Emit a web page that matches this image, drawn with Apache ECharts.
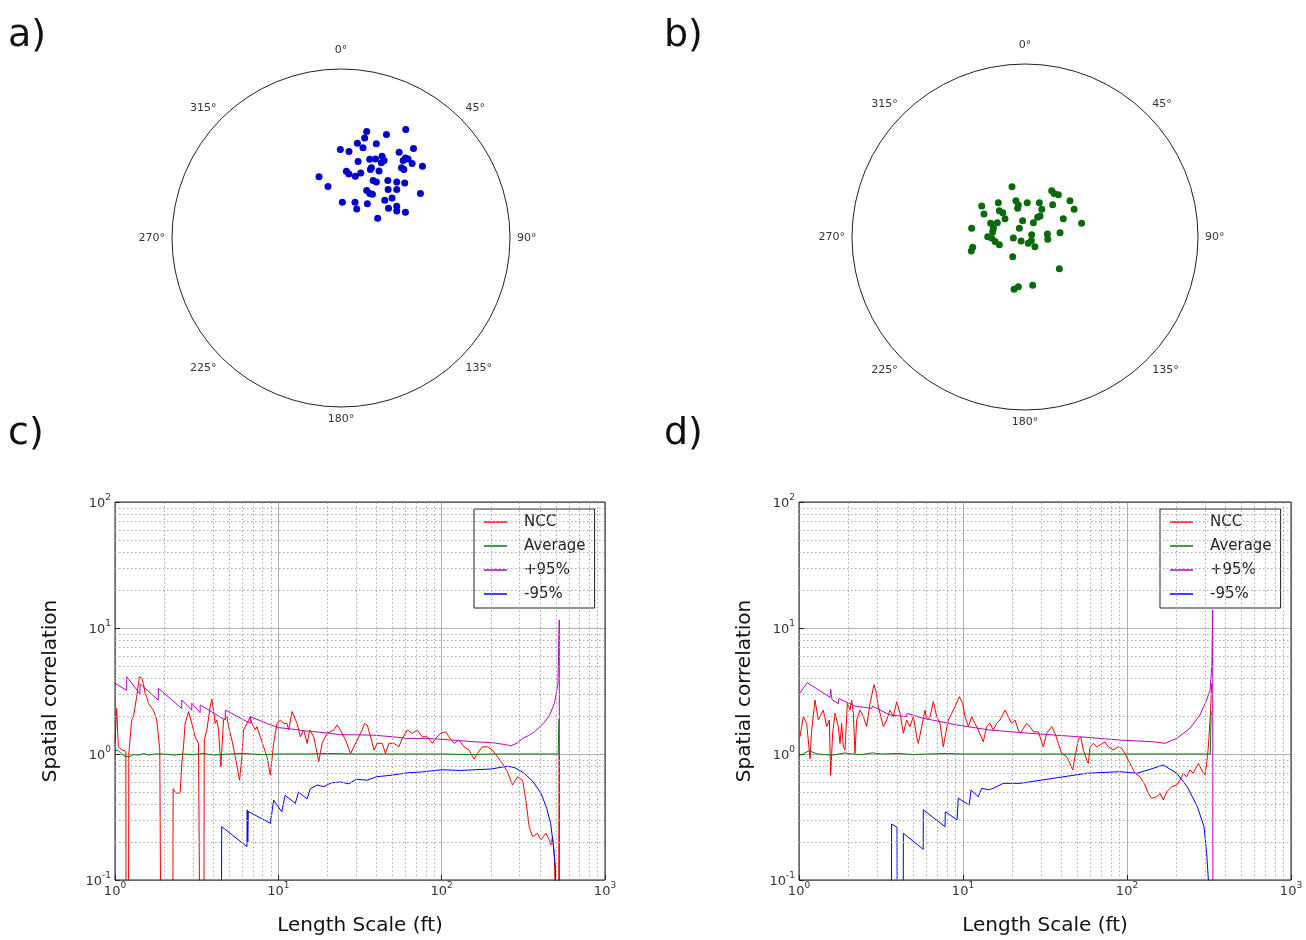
<!DOCTYPE html>
<html><head><meta charset="utf-8">
<script src="https://cdn.jsdelivr.net/npm/echarts@6/dist/echarts.min.js"></script>
<style>html,body{margin:0;padding:0;background:#fff}#c{width:1306px;height:940px}</style>
</head><body><div id="c"></div>
<script>
// ---------- data ----------
const angleStep = 45;
const stereoA = [[0.383,0.642],[0.152,0.630],[0.269,0.613],[0.140,0.591],[0.097,0.561],[0.209,0.557],[0.130,0.534],[-0.004,0.524],[0.047,0.512],[0.429,0.530],[0.344,0.508],[0.101,0.453],[0.170,0.466],[0.204,0.468],[0.243,0.484],[0.255,0.458],[0.239,0.445],[0.381,0.474],[0.397,0.468],[0.368,0.458],[0.421,0.441],[0.482,0.425],[0.358,0.415],[0.372,0.405],[0.180,0.415],[0.174,0.405],[0.225,0.397],[0.032,0.395],[0.047,0.379],[0.085,0.366],[0.117,0.385],[-0.130,0.362],[-0.077,0.304],[0.190,0.340],[0.209,0.332],[0.277,0.340],[0.330,0.332],[0.377,0.326],[0.152,0.281],[0.170,0.263],[0.186,0.259],[0.279,0.287],[0.330,0.287],[0.470,0.263],[0.302,0.237],[0.259,0.223],[0.008,0.211],[0.083,0.211],[0.093,0.172],[0.156,0.202],[0.281,0.176],[0.330,0.188],[0.330,0.160],[0.381,0.152],[0.217,0.117]];
const stereoB = [[-0.076,0.294],[0.156,0.271],[0.170,0.255],[0.195,0.247],[-0.253,0.181],[-0.156,0.201],[-0.053,0.212],[-0.039,0.187],[0.013,0.201],[0.084,0.201],[0.162,0.189],[0.263,0.212],[0.287,0.162],[-0.240,0.135],[-0.150,0.154],[-0.130,0.142],[-0.117,0.107],[-0.043,0.168],[0.098,0.162],[0.088,0.123],[0.074,0.115],[0.224,0.107],[0.331,0.080],[-0.014,0.095],[0.049,0.084],[-0.201,0.080],[-0.162,0.084],[-0.185,0.051],[-0.189,0.031],[-0.312,0.051],[-0.033,0.051],[-0.218,0.002],[-0.195,-0.006],[-0.175,-0.027],[-0.150,-0.045],[-0.068,-0.006],[-0.023,-0.023],[0.039,0.013],[0.037,-0.022],[0.019,-0.037],[0.058,-0.057],[0.131,0.018],[0.133,-0.013],[0.205,0.025],[-0.306,-0.060],[-0.314,-0.082],[-0.072,-0.115],[0.201,-0.185],[-0.064,-0.306],[-0.039,-0.291],[0.045,-0.282]];

const seriesNames = ['NCC', 'Average', '+95%', '-95%'];
const minorGridX = [2,3,4,5,6,7,8,9,20,30,40,50,60,70,80,90,200,300,400,500,600,700,800,900];
const minorGridY = [0.2,0.3,0.4,0.5,0.6,0.7,0.8,0.9,2,3,4,5,6,7,8,9,20,30,40,50,60,70,80,90];

const nccC = [[1.0,1.22],[1.024,2.3],[1.048,1.14],[1.10,1.08],[1.165,1.05],[1.168,0.05],[1.21,0.05],[1.215,1.0],[1.265,1.86],[1.296,1.98],[1.358,2.85],[1.41,4.11],[1.457,3.99],[1.492,3.64],[1.528,3.03],[1.564,2.85],[1.602,2.52],[1.719,2.23],[1.801,1.86],[1.88,1.08],[1.905,0.05],[2.26,0.05],[2.27,0.53],[2.35,0.49],[2.505,0.49],[2.565,0.84],[2.626,1.14],[2.688,1.75],[2.818,2.17],[2.884,2.10],[2.953,1.75],[3.096,1.37],[3.245,1.215],[3.30,0.05],[3.50,0.05],[3.52,1.29],[3.65,1.55],[3.826,2.38],[3.917,2.72],[4.01,2.23],[4.106,1.75],[4.204,1.86],[4.305,1.55],[4.448,0.79],[4.619,1.86],[4.842,1.98],[4.958,1.65],[5.197,1.29],[5.448,0.953],[5.791,0.62],[5.984,0.953],[6.128,1.55],[6.423,1.75],[6.733,1.98],[6.893,1.75],[7.225,1.55],[7.396,1.65],[7.756,1.37],[8.128,1.14],[8.519,0.953],[8.93,0.68],[9.36,1.215],[9.81,1.75],[10.29,1.86],[10.78,1.75],[11.3,1.75],[11.57,1.55],[12.13,2.17],[12.42,2.10],[13.02,1.75],[13.65,1.37],[14.3,1.55],[15.0,1.215],[15.57,1.55],[16.48,1.37],[17.68,0.87],[18.53,1.215],[19.89,1.46],[21.85,1.55],[22.91,1.70],[24.0,1.55],[25.8,1.29],[27.7,1.01],[29.0,1.14],[31.1,1.37],[32.6,1.55],[33.7,1.75],[35.0,1.70],[36.7,1.37],[38.5,1.076],[40.3,1.215],[43.3,1.215],[45.3,1.01],[47.5,1.215],[51.0,1.215],[54.7,1.14],[57.4,1.33],[61.6,1.55],[66.1,1.46],[70.9,1.55],[76.1,1.37],[81.7,1.37],[87.6,1.215],[91.9,1.33],[98.6,1.46],[105.8,1.50],[110.9,1.37],[119.0,1.215],[127.8,1.29],[137.1,1.14],[147.1,1.076],[157.9,0.91],[165.5,1.01],[177.6,1.14],[190.6,1.14],[204.6,1.076],[219.6,0.953],[235.6,0.84],[252.9,0.724],[271.4,0.567],[291.2,0.66],[312.6,0.62],[327.6,0.43],[343.4,0.265],[359.9,0.221],[386.3,0.235],[404.9,0.208],[434.5,0.235],[455.5,0.208],[466.4,0.19],[477.5,0.221],[490,0.15],[500.5,0.05],[520,0.05],[524.8,1.0],[526,0.05]];
const avgC = [[1,1.07],[1.05,1.06],[1.1,1.0],[1.15,0.96],[1.22,0.95],[1.3,0.99],[1.4,0.98],[1.5,1.01],[1.6,0.98],[1.75,1.0],[2,1.0],[2.3,0.98],[2.6,1.0],[3,0.99],[3.5,1.01],[4,0.98],[5,1.0],[6,1.01],[8,0.99],[10,1.0],[15,1.0],[20,1.01],[30,1.0],[50,1.0],[80,1.0],[100,1.0],[150,0.99],[200,1.0],[300,1.0],[400,1.0],[517,1.0],[522,1.9]];
const upC = [[1.0,3.64],[1.179,3.2],[1.18,4.11],[1.42,3.0],[1.425,3.6],[1.84,2.68],[1.845,3.32],[2.56,2.30],[2.565,2.68],[2.95,2.23],[2.955,2.52],[3.32,2.13],[3.325,2.45],[4.73,1.86],[4.74,2.23],[6.73,1.75],[6.74,1.98],[8.5,1.75],[10,1.62],[12,1.58],[15,1.52],[20,1.47],[24,1.42],[30,1.42],[38.5,1.41],[50,1.37],[61.6,1.33],[80,1.33],[98.6,1.31],[125,1.28],[157.9,1.25],[204.6,1.23],[252.9,1.18],[265,1.16],[290,1.22],[312.6,1.33],[340,1.40],[370,1.50],[420,1.75],[455.5,2.0],[490,2.52],[515,3.6],[524.8,11.6],[527,0.05]];
const loC = [[4.48,0.05],[4.5,0.265],[6.43,0.184],[6.45,0.36],[6.5,0.2],[6.55,0.35],[8.93,0.282],[9.36,0.43],[10.5,0.348],[11.0,0.47],[12.7,0.406],[13.3,0.50],[15.0,0.44],[15.7,0.53],[17.3,0.567],[19,0.55],[21,0.59],[24,0.60],[27,0.58],[30,0.63],[35,0.62],[40,0.66],[50,0.68],[62,0.71],[75,0.72],[100,0.75],[130,0.74],[160,0.75],[200,0.76],[253,0.80],[280,0.78],[317,0.71],[360,0.61],[405,0.49],[440,0.37],[465,0.28],[485,0.18],[497,0.127],[502,0.05]];

const nccD = [[1.014,1.37],[1.063,1.98],[1.114,1.75],[1.167,0.918],[1.195,1.55],[1.252,2.68],[1.312,1.86],[1.375,2.10],[1.407,2.23],[1.475,1.65],[1.531,1.86],[1.56,0.677],[1.604,1.46],[1.658,2.10],[1.737,1.65],[1.778,1.215],[1.82,1.75],[1.864,1.14],[1.908,1.076],[1.971,2.52],[2.046,2.23],[2.095,2.68],[2.145,2.10],[2.195,1.01],[2.247,1.86],[2.355,2.23],[2.468,1.98],[2.586,1.65],[2.71,2.52],[2.867,3.55],[2.948,3.14],[3.045,2.38],[3.118,2.10],[3.268,1.65],[3.424,1.86],[3.588,2.23],[3.761,1.98],[3.941,2.60],[4.13,2.10],[4.33,1.46],[4.534,1.86],[4.752,1.65],[4.98,1.98],[5.22,1.37],[5.34,1.215],[5.6,1.65],[5.865,2.23],[6.004,1.86],[6.293,1.98],[6.594,2.60],[6.91,1.98],[7.24,1.75],[7.59,1.14],[7.77,1.37],[8.14,1.86],[8.53,2.10],[8.94,2.38],[9.50,2.85],[9.95,2.52],[10.29,1.98],[10.78,1.65],[11.29,1.98],[11.83,1.75],[12.4,1.55],[13.3,1.25],[13.94,1.65],[14.6,1.75],[15.31,1.55],[16.04,1.75],[16.81,1.86],[18.04,2.23],[18.9,1.98],[19.8,1.75],[20.75,1.86],[21.75,1.55],[22.27,1.46],[24.45,1.75],[25.63,1.65],[26.85,1.50],[28.80,1.50],[30.89,1.14],[32.37,1.46],[34.73,1.65],[36.39,1.46],[38.13,1.215],[39.96,1.01],[42.86,0.953],[44.92,0.843],[46.64,0.746],[48.19,0.953],[50.5,1.29],[52.2,1.37],[54.2,1.076],[56.8,0.896],[58.1,0.843],[59.5,1.14],[62.3,1.215],[65.3,1.14],[68.4,1.18],[73.4,1.25],[76.9,1.14],[82.6,1.076],[88.6,1.14],[92.8,1.11],[97.2,1.01],[104.3,0.843],[111.9,0.703],[120.0,0.66],[128.8,0.567],[134.9,0.487],[141.4,0.445],[151.7,0.458],[158.9,0.487],[166.5,0.431],[174.5,0.50],[187.3,0.55],[200.9,0.567],[210.5,0.62],[220.6,0.703],[231.1,0.66],[242.1,0.746],[253.8,0.703],[272.3,0.843],[285.3,0.746],[298.9,0.68],[306.1,0.843],[313.3,1.14],[323.7,2.23],[328.3,3.64]];
const avgD = [[1.0,0.98],[1.05,0.99],[1.1,1.03],[1.16,1.06],[1.22,1.03],[1.3,1.0],[1.45,0.99],[1.6,0.98],[1.75,1.0],[1.9,1.02],[2.1,1.0],[2.4,0.99],[2.8,1.02],[3.2,1.0],[4,1.01],[5,0.99],[6,1.0],[8,1.01],[10,1.0],[15,1.0],[25,1.0],[50,1.0],[100,1.0],[200,1.0],[300,1.0],[322,1.0],[326,2.2]];
const upD = [[1.014,3.05],[1.124,3.68],[1.545,2.82],[1.56,3.26],[1.59,2.7],[1.737,2.51],[1.75,2.75],[2.195,2.40],[2.774,2.30],[2.8,2.4],[3.588,2.04],[4.534,1.98],[4.55,2.1],[5.731,1.92],[7.24,1.81],[9.15,1.70],[14.6,1.55],[22.3,1.48],[35.5,1.415],[56.8,1.356],[90.6,1.29],[144.6,1.25],[170.5,1.215],[201,1.33],[242,1.6],[278.6,2.04],[306,2.68],[321,3.22],[329,5.0],[333,13.9],[334,0.05]];
const loD = [[3.66,0.05],[3.67,0.278],[3.96,0.262],[3.97,0.05],[4.32,0.05],[4.33,0.235],[5.72,0.175],[5.73,0.36],[7.77,0.265],[7.8,0.348],[9.2,0.30],[9.36,0.445],[10.9,0.394],[11.2,0.518],[12.4,0.458],[13.0,0.534],[14.5,0.52],[16.0,0.55],[17.6,0.585],[22.3,0.585],[35.5,0.641],[56.8,0.703],[90.6,0.724],[114.6,0.703],[140,0.76],[166.5,0.818],[201,0.703],[233,0.55],[268.5,0.382],[294.8,0.265],[306,0.163],[313.6,0.1],[315,0.05]];

// ---------- styling ----------
const FONT = 'DejaVu Sans';
const lineColors = ['#ff0000', '#008000', '#bf00bf', '#0000ff'];

function logLabel(v) {
  const e = Math.round(Math.log(v) / Math.LN10);
  return '{b|10}{s|' + e + '}';
}
const tickRich = {
  b: { fontSize: 13, fontFamily: FONT, color: '#333', lineHeight: 17, verticalAlign: 'bottom' },
  s: { fontSize: 9, fontFamily: FONT, color: '#333', lineHeight: 10, verticalAlign: 'top' }
};

function logX(grid) {
  return {
    type: 'log', logBase: 10, gridIndex: grid, min: 1, max: 1000,
    name: 'Length Scale (ft)', nameLocation: 'middle', nameGap: 36,
    nameTextStyle: { fontSize: 20, fontFamily: FONT, color: '#111' },
    axisLine: { show: false },
    axisTick: { show: true, inside: true, length: 5, lineStyle: { color: '#222' } },
    axisLabel: { formatter: logLabel, rich: tickRich, margin: 1, hideOverlap: false, showMinLabel: true, showMaxLabel: true },
    splitLine: { show: true, lineStyle: { color: '#b0b0b0', width: 1 } }
  };
}
function logY(grid, gap) {
  return {
    type: 'log', logBase: 10, gridIndex: grid, min: 0.1, max: 100,
    name: 'Spatial correlation', nameLocation: 'middle', nameGap: gap,
    nameTextStyle: { fontSize: 20, fontFamily: FONT, color: '#111' },
    axisLine: { show: false },
    axisTick: { show: true, inside: true, length: 5, lineStyle: { color: '#222' } },
    axisLabel: { formatter: logLabel, rich: tickRich, margin: 4, hideOverlap: false, showMinLabel: true, showMaxLabel: true },
    splitLine: { show: true, lineStyle: { color: '#b0b0b0', width: 1 } }
  };
}
function hiddenAxis(grid) {
  return { type: 'value', gridIndex: grid, min: -1, max: 1, show: false };
}
function angleAx(polar) {
  return {
    polarIndex: polar, type: 'value', min: 0, max: 360, interval: angleStep,
    startAngle: 90, clockwise: true,
    axisLine: { show: true, lineStyle: { color: '#222', width: 1 } },
    axisTick: { show: false }, splitLine: { show: false },
    axisLabel: {
      margin: 7,
      formatter: function (v) { if (v >= 360) return ''; return v === 0 ? '{t|0°}' : '{n|' + v + '°}'; },
      rich: {
        t: { fontSize: 11, fontFamily: FONT, color: '#333', padding: [0, 0, 6, 0] },
        n: { fontSize: 11, fontFamily: FONT, color: '#333' }
      }
    }
  };
}
function minorGrid(grid) {
  const d = minorGridX.map(v => ({ xAxis: v })).concat(minorGridY.map(v => ({ yAxis: v })));
  return {
    type: 'line', xAxisIndex: grid, yAxisIndex: grid, data: [], silent: true, z: 1,
    markLine: {
      silent: true, symbol: ['none', 'none'], label: { show: false }, animation: false,
      lineStyle: { type: [1.5, 2.5], color: '#aaaaaa', width: 1 },
      emphasis: { disabled: true },
      data: d
    }
  };
}
function lineSeries(name, data, grid, color) {
  return {
    type: 'line', name: name, data: data, xAxisIndex: grid, yAxisIndex: grid,
    symbol: 'none', showSymbol: false, clip: true, z: 3,
    lineStyle: { color: color, width: 1 }, itemStyle: { color: color },
    emphasis: { disabled: true }
  };
}
function legendFor(left) {
  return {
    left: left, top: 509, orient: 'vertical', data: seriesNames,
    icon: 'rect', itemWidth: 23, itemHeight: 1.5, itemGap: 6,
    backgroundColor: '#fff', borderColor: '#222', borderWidth: 1, borderRadius: 0,
    padding: [4, 9, 5, 10],
    textStyle: { fontSize: 15, fontFamily: FONT, color: '#222', lineHeight: 18, padding: [0, 0, 0, 12] },
    selectedMode: false
  };
}

const option = {
  animation: false,
  backgroundColor: '#fff',
  grid: [
    { left: 115, top: 502, width: 490, height: 378, show: true, borderColor: '#222', borderWidth: 1, backgroundColor: 'transparent', z: 4 },
    { left: 799, top: 502, width: 492, height: 378, show: true, borderColor: '#222', borderWidth: 1, backgroundColor: 'transparent', z: 4 },
    { left: 172, top: 69, width: 338, height: 338 },
    { left: 854, top: 66, width: 342, height: 342 }
  ],
  xAxis: [logX(0), logX(1), hiddenAxis(2), hiddenAxis(3)],
  yAxis: [logY(0, 54), logY(1, 44), hiddenAxis(2), hiddenAxis(3)],
  polar: [
    { center: [341, 238], radius: 169 },
    { center: [1025, 237], radius: 173 }
  ],
  angleAxis: [angleAx(0), angleAx(1)],
  radiusAxis: [
    { polarIndex: 0, min: 0, max: 1, show: false, axisLine: { show: false }, splitLine: { show: false }, axisLabel: { show: false }, axisTick: { show: false } },
    { polarIndex: 1, min: 0, max: 1, show: false, axisLine: { show: false }, splitLine: { show: false }, axisLabel: { show: false }, axisTick: { show: false } }
  ],
  legend: [legendFor(474), legendFor(1160)],
  graphic: [
    { type: 'text', left: 8, top: 17, style: { text: 'a)', font: '38px "DejaVu Sans"', fill: '#111' } },
    { type: 'text', left: 664, top: 17, style: { text: 'b)', font: '38px "DejaVu Sans"', fill: '#111' } },
    { type: 'text', left: 8, top: 415, style: { text: 'c)', font: '38px "DejaVu Sans"', fill: '#111' } },
    { type: 'text', left: 664, top: 415, style: { text: 'd)', font: '38px "DejaVu Sans"', fill: '#111' } }
  ],
  series: [
    minorGrid(0), minorGrid(1),
    lineSeries(seriesNames[0], nccC, 0, lineColors[0]),
    lineSeries(seriesNames[1], avgC, 0, lineColors[1]),
    lineSeries(seriesNames[2], upC, 0, lineColors[2]),
    lineSeries(seriesNames[3], loC, 0, lineColors[3]),
    lineSeries(seriesNames[0], nccD, 1, lineColors[0]),
    lineSeries(seriesNames[1], avgD, 1, lineColors[1]),
    lineSeries(seriesNames[2], upD, 1, lineColors[2]),
    lineSeries(seriesNames[3], loD, 1, lineColors[3]),
    { type: 'scatter', xAxisIndex: 2, yAxisIndex: 2, data: stereoA, symbolSize: 7, itemStyle: { color: '#0000cc', opacity: 1 }, z: 5 },
    { type: 'scatter', xAxisIndex: 3, yAxisIndex: 3, data: stereoB, symbolSize: 7, itemStyle: { color: '#0b6a0b', opacity: 1 }, z: 5 }
  ]
};
const chart = echarts.init(document.getElementById('c'), null, { renderer: 'canvas' });
chart.setOption(option);
</script>
</body></html>
